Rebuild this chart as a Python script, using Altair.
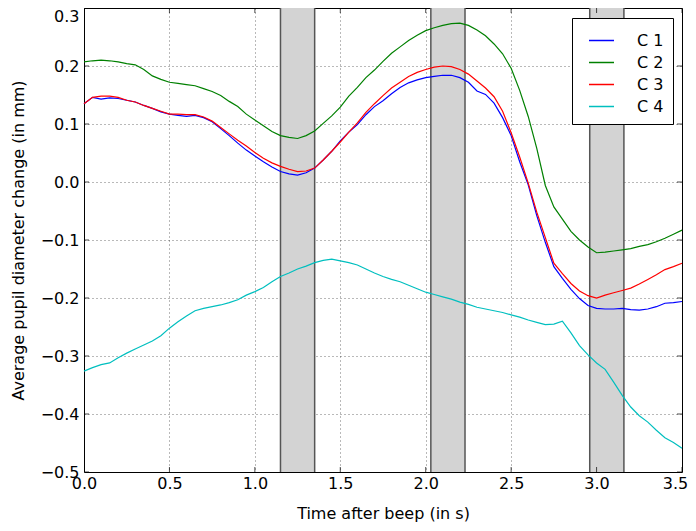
import altair as alt
import pandas as pd

# ---------------- data ----------------
time_s = [0.00, 0.05, 0.10, 0.15, 0.20, 0.25, 0.30, 0.35, 0.40, 0.45,
          0.50, 0.55, 0.60, 0.65, 0.70, 0.75, 0.80, 0.85, 0.90, 0.95,
          1.00, 1.05, 1.10, 1.15, 1.20, 1.25, 1.30, 1.35, 1.40, 1.45,
          1.50, 1.55, 1.60, 1.65, 1.70, 1.75, 1.80, 1.85, 1.90, 1.95,
          2.00, 2.05, 2.10, 2.15, 2.20, 2.25, 2.30, 2.35, 2.40, 2.45,
          2.50, 2.55, 2.60, 2.65, 2.70, 2.75, 2.80, 2.85, 2.90, 2.95,
          3.00, 3.05, 3.10, 3.15, 3.20, 3.25, 3.30, 3.35, 3.40, 3.45,
          3.50]

c1 = [0.135, 0.146, 0.143, 0.145, 0.144, 0.141, 0.138, 0.132, 0.127, 0.121,
      0.117, 0.115, 0.113, 0.115, 0.111, 0.104, 0.092, 0.080, 0.067, 0.055,
      0.045, 0.035, 0.026, 0.018, 0.014, 0.012, 0.016, 0.024, 0.038, 0.053,
      0.071, 0.086, 0.099, 0.116, 0.130, 0.140, 0.152, 0.163, 0.171, 0.176,
      0.180, 0.182, 0.184, 0.184, 0.180, 0.172, 0.157, 0.151, 0.136, 0.111,
      0.080, 0.035, -0.005, -0.058, -0.104, -0.146, -0.166, -0.185, -0.201, -0.213,
      -0.218, -0.219, -0.219, -0.218, -0.220, -0.221, -0.219, -0.215, -0.209, -0.208,
      -0.206]

c2 = [0.207, 0.209, 0.210, 0.209, 0.207, 0.204, 0.202, 0.194, 0.183, 0.177,
      0.172, 0.170, 0.168, 0.166, 0.161, 0.156, 0.149, 0.139, 0.130, 0.117,
      0.107, 0.097, 0.087, 0.080, 0.077, 0.075, 0.080, 0.088, 0.101, 0.114,
      0.129, 0.148, 0.163, 0.180, 0.193, 0.208, 0.222, 0.233, 0.244, 0.253,
      0.261, 0.266, 0.270, 0.273, 0.274, 0.270, 0.262, 0.252, 0.238, 0.221,
      0.196, 0.158, 0.113, 0.058, -0.006, -0.043, -0.064, -0.085, -0.100, -0.112,
      -0.122, -0.121, -0.119, -0.117, -0.115, -0.111, -0.108, -0.103, -0.097, -0.090,
      -0.083]

c3 = [0.135, 0.146, 0.148, 0.148, 0.146, 0.141, 0.138, 0.132, 0.127, 0.122,
      0.117, 0.117, 0.116, 0.116, 0.112, 0.105, 0.094, 0.083, 0.072, 0.062,
      0.051, 0.041, 0.033, 0.027, 0.022, 0.018, 0.019, 0.024, 0.038, 0.053,
      0.069, 0.086, 0.102, 0.120, 0.135, 0.149, 0.162, 0.172, 0.182, 0.189,
      0.194, 0.198, 0.200, 0.199, 0.194, 0.186, 0.174, 0.162, 0.147, 0.122,
      0.085, 0.043, -0.002, -0.052, -0.096, -0.140, -0.158, -0.175, -0.188, -0.196,
      -0.200, -0.195, -0.191, -0.187, -0.183, -0.176, -0.168, -0.160, -0.151, -0.146,
      -0.140]

c4 = [-0.326, -0.320, -0.315, -0.312, -0.303, -0.295, -0.288, -0.281, -0.274, -0.265,
      -0.252, -0.241, -0.231, -0.222, -0.218, -0.215, -0.212, -0.208, -0.203, -0.195,
      -0.189, -0.182, -0.172, -0.163, -0.157, -0.150, -0.145, -0.139, -0.135, -0.133,
      -0.136, -0.139, -0.143, -0.150, -0.157, -0.163, -0.168, -0.172, -0.178, -0.184,
      -0.190, -0.194, -0.198, -0.202, -0.207, -0.211, -0.216, -0.219, -0.222, -0.225,
      -0.229, -0.233, -0.238, -0.242, -0.246, -0.245, -0.240, -0.260, -0.282, -0.298,
      -0.312, -0.323, -0.345, -0.368, -0.388, -0.403, -0.414, -0.428, -0.441, -0.449,
      -0.459]

series_names = ["C 1", "C 2", "C 3", "C 4"]
series_colors = ["#0000ff", "#008000", "#ff0000", "#00bfbf"]

band_start = [1.15, 2.03, 2.96]
band_end = [1.35, 2.23, 3.16]

x_ticks = [0.0, 0.5, 1.0, 1.5, 2.0, 2.5, 3.0, 3.5]
y_ticks = [-0.5, -0.4, -0.3, -0.2, -0.1, 0.0, 0.1, 0.2, 0.3]

# ---------------- tables ----------------
rows = []
for name, vals in zip(series_names, [c1, c2, c3, c4]):
    for t, v in zip(time_s, vals):
        rows.append({"t": t, "value": v, "cond": name})
lines_df = pd.DataFrame(rows)

bands_df = pd.DataFrame({"start": band_start, "end": band_end})
edges_df = pd.DataFrame({"edge": band_start + band_end})

ytick_df = pd.DataFrame(
    [{"xpos": x_ticks[0], "yv": v} for v in y_ticks]
    + [{"xpos": x_ticks[-1], "yv": v} for v in y_ticks]
)
xtick_df = pd.DataFrame(
    [{"xv": v, "ypos": y_ticks[0]} for v in x_ticks]
    + [{"xv": v, "ypos": y_ticks[-1]} for v in x_ticks]
)

# ---------------- scales / axes ----------------
xscale = alt.Scale(domain=[x_ticks[0], x_ticks[-1]], nice=False, zero=False)
yscale = alt.Scale(domain=[y_ticks[0], y_ticks[-1]], nice=False, zero=False)

xaxis = alt.Axis(
    values=x_ticks, format=".1f", labelPadding=3, titlePadding=14,
    labelFlush=False,
    labelOffset=alt.condition("datum.value == 3.5", alt.value(-7), alt.value(0)),
)
yaxis = alt.Axis(
    values=y_ticks, format=".1f", labelPadding=5, titlePadding=14,
    labelBaseline=alt.condition("datum.value == 0.3", alt.value("top"), alt.value("middle")),
)

XT = "Time after beep (in s)"
YT = "Average pupil diameter change (in mm)"

bands = alt.Chart(bands_df).mark_rect(color="#d3d3d3").encode(
    x=alt.X("start:Q", scale=xscale, axis=xaxis, title=XT),
    x2="end:Q",
)

edges = alt.Chart(edges_df).mark_rule(color="#555555", strokeWidth=1.5).encode(
    x=alt.X("edge:Q", scale=xscale, axis=xaxis, title=XT),
)

lines = alt.Chart(lines_df).mark_line(strokeWidth=1.2).encode(
    x=alt.X("t:Q", scale=xscale, axis=xaxis, title=XT),
    y=alt.Y("value:Q", scale=yscale, axis=yaxis, title=YT),
    color=alt.Color(
        "cond:N",
        scale=alt.Scale(domain=series_names, range=series_colors),
        legend=alt.Legend(
            title=None, orient="none", legendX=488, legendY=10,
            strokeColor="black", fillColor="white", padding=9,
            symbolType="stroke", symbolSize=625, symbolStrokeWidth=1.5,
            symbolOffset=7, labelOffset=22, rowPadding=0,
            labelFont="DejaVu Sans", labelFontSize=16, labelColor="black",
            cornerRadius=0, zindex=2,
        ),
    ),
)

yticks = alt.Chart(ytick_df).mark_tick(
    orient="horizontal", size=10, thickness=1, color="black", clip=True
).encode(
    x=alt.X("xpos:Q", scale=xscale, axis=xaxis, title=XT),
    y=alt.Y("yv:Q", scale=yscale, axis=yaxis, title=YT),
)

xticks = alt.Chart(xtick_df).mark_tick(
    orient="vertical", size=10, thickness=1, color="black", clip=True
).encode(
    x=alt.X("xv:Q", scale=xscale, axis=xaxis, title=XT),
    y=alt.Y("ypos:Q", scale=yscale, axis=yaxis, title=YT),
)

chart = (
    alt.layer(bands, edges, lines, yticks, xticks)
    .properties(
        width=598, height=464,
        autosize=alt.AutoSizeParams(type="none"),
        padding={"left": 76, "top": 0, "right": 6, "bottom": 51},
    )
    .configure_view(stroke="black", strokeWidth=1)
    .configure_axis(
        grid=True, gridColor="#000000", gridOpacity=0.55, gridDash=[1, 3], gridWidth=1,
        domain=False, ticks=False, tickSize=0,
        labelFont="DejaVu Sans", labelFontSize=16, labelColor="black",
        titleFont="DejaVu Sans", titleFontSize=16, titleFontWeight="normal", titleColor="black",
        labelOverlap=False, zindex=1,
    )
)

chart.save("out.html", embed_options={"renderer": "svg", "actions": False})
